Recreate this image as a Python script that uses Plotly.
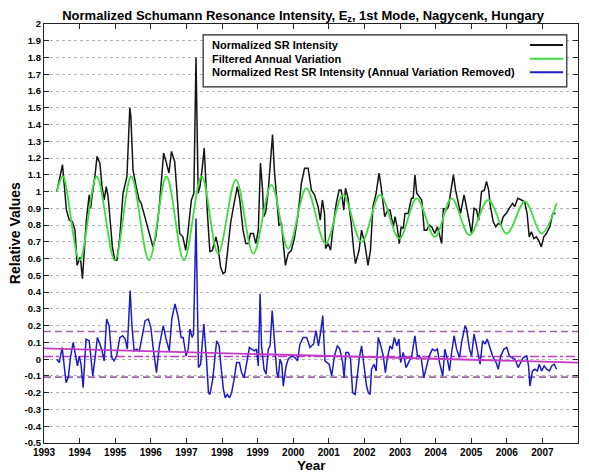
import plotly.graph_objects as go

# ---------------- data ----------------
sr_year = [1993.36, 1993.52, 1993.63, 1993.71, 1993.80, 1993.87, 1993.93, 1993.99, 1994.02, 1994.08,
           1994.19, 1994.27, 1994.31, 1994.36, 1994.43, 1994.49, 1994.57, 1994.63, 1994.69, 1994.75,
           1994.80, 1994.85, 1994.92, 1994.99, 1995.05, 1995.13, 1995.22, 1995.33, 1995.38, 1995.41,
           1995.44, 1995.50, 1995.59, 1995.67, 1995.73, 1995.86, 1995.97, 1996.06, 1996.14, 1996.23,
           1996.30, 1996.36, 1996.44, 1996.51, 1996.58, 1996.67, 1996.73, 1996.81, 1996.90, 1996.98,
           1997.04, 1997.14, 1997.21, 1997.27, 1997.33, 1997.38, 1997.44, 1997.50, 1997.59, 1997.66,
           1997.73, 1997.83, 1997.89, 1997.96, 1998.03, 1998.09, 1998.15, 1998.24, 1998.34, 1998.43,
           1998.50, 1998.59, 1998.67, 1998.74, 1998.80, 1998.88, 1998.95, 1999.02, 1999.08, 1999.14,
           1999.17, 1999.23, 1999.30, 1999.36, 1999.42, 1999.47, 1999.53, 1999.60, 1999.67, 1999.74,
           1999.78, 1999.86, 1999.95, 2000.04, 2000.14, 2000.23, 2000.32, 2000.42, 2000.51, 2000.60,
           2000.70, 2000.76, 2000.82, 2000.88, 2000.91, 2000.98, 2001.05, 2001.12, 2001.21, 2001.29,
           2001.35, 2001.42, 2001.47, 2001.54, 2001.63, 2001.70, 2001.75, 2001.85, 2001.92, 2002.01,
           2002.10, 2002.17, 2002.24, 2002.33, 2002.41, 2002.47, 2002.57, 2002.66, 2002.72, 2002.81,
           2002.86, 2002.92, 2002.98, 2003.03, 2003.09, 2003.14, 2003.23, 2003.32, 2003.37, 2003.42,
           2003.47, 2003.54, 2003.61, 2003.68, 2003.75, 2003.82, 2003.89, 2003.98, 2004.05, 2004.10,
           2004.17, 2004.22, 2004.29, 2004.36, 2004.42, 2004.50, 2004.56, 2004.64, 2004.70, 2004.80,
           2004.87, 2004.95, 2005.01, 2005.08, 2005.15, 2005.21, 2005.29, 2005.37, 2005.43, 2005.49,
           2005.54, 2005.62, 2005.69, 2005.76, 2005.83, 2005.90, 2005.99, 2006.07, 2006.16, 2006.22,
           2006.31, 2006.41, 2006.50, 2006.57, 2006.63, 2006.69, 2006.76, 2006.83, 2006.89, 2006.97,
           2007.04, 2007.11, 2007.21, 2007.29, 2007.37]
sr_value = [1.00, 1.16, 0.89, 0.83, 0.82, 0.77, 0.56, 0.59, 0.61, 0.48,
            0.83, 0.98, 0.90, 0.99, 1.09, 1.21, 1.17, 1.03, 0.95, 1.03,
            0.97, 0.85, 0.67, 0.59, 0.59, 0.73, 0.99, 1.09, 1.31, 1.50,
            1.45, 1.13, 1.03, 0.95, 0.93, 0.83, 0.75, 0.67, 0.73, 0.89,
            1.07, 1.23, 1.17, 1.11, 1.24, 1.18, 1.01, 0.75, 0.73, 0.65,
            0.75, 0.95, 0.99, 1.80, 0.99, 1.03, 1.13, 1.26, 0.87, 0.64,
            0.65, 0.73, 0.67, 0.55, 0.51, 0.52, 0.63, 0.81, 0.93, 1.03,
            0.95, 0.77, 0.69, 0.69, 0.75, 0.75, 0.69, 0.77, 1.17, 1.01,
            0.85, 0.88, 1.01, 1.19, 1.34, 1.13, 0.97, 0.80, 0.81, 0.63,
            0.56, 0.63, 0.65, 0.73, 0.87, 1.05, 1.14, 1.14, 1.01, 0.98,
            0.91, 0.83, 0.95, 0.87, 0.66, 0.69, 0.65, 0.79, 0.93, 1.01,
            1.01, 0.89, 1.02, 0.96, 0.81, 0.65, 0.57, 0.65, 0.77, 0.69,
            0.56, 0.65, 0.91, 0.99, 1.11, 1.03, 0.85, 0.89, 0.89, 0.79,
            0.85, 0.79, 0.69, 0.79, 0.78, 0.87, 0.87, 0.96, 0.96, 1.10,
            0.99, 0.97, 0.95, 0.77, 0.77, 0.80, 0.79, 0.75, 0.79, 0.75,
            0.69, 0.90, 0.89, 0.91, 0.99, 1.10, 1.01, 0.93, 0.87, 0.98,
            0.91, 0.83, 0.75, 0.90, 0.89, 0.83, 1.00, 1.01, 1.06, 1.01,
            0.91, 0.82, 0.79, 0.81, 0.80, 0.85, 0.87, 0.90, 0.93, 0.91,
            0.96, 0.95, 0.94, 0.87, 0.73, 0.76, 0.72, 0.73, 0.71, 0.67,
            0.73, 0.75, 0.79, 0.87, 0.87]

annual_year = [1993.36, 1993.53, 1994.00, 1994.48, 1994.99, 1995.45, 1995.95, 1996.44, 1996.93, 1997.43,
               1997.89, 1998.39, 1998.88, 1999.39, 1999.86, 2000.37, 2000.91, 2001.40, 2001.92, 2002.44,
               2002.98, 2003.47, 2003.98, 2004.45, 2004.95, 2005.48, 2006.00, 2006.51, 2006.98, 2007.40]
annual_value = [1.00, 1.09, 0.59, 1.09, 0.59, 1.09, 0.59, 1.09, 0.59, 1.09,
                0.63, 1.07, 0.63, 1.04, 0.66, 1.02, 0.69, 0.98, 0.70, 0.98,
                0.72, 0.96, 0.73, 0.96, 0.74, 0.95, 0.75, 0.94, 0.75, 0.93]

rest_year = [1993.36, 1993.43, 1993.51, 1993.62, 1993.68, 1993.75, 1993.82, 1993.90, 1993.94, 1993.99,
             1994.04, 1994.10, 1994.18, 1994.27, 1994.37, 1994.43, 1994.50, 1994.57, 1994.62, 1994.69,
             1994.76, 1994.83, 1994.90, 1994.97, 1995.04, 1995.13, 1995.21, 1995.28, 1995.34, 1995.42,
             1995.47, 1995.53, 1995.60, 1995.68, 1995.74, 1995.84, 1995.93, 1996.00, 1996.07, 1996.16,
             1996.24, 1996.35, 1996.43, 1996.52, 1996.59, 1996.68, 1996.77, 1996.85, 1996.91, 1996.99,
             1997.05, 1997.10, 1997.16, 1997.20, 1997.27, 1997.34, 1997.40, 1997.49, 1997.57, 1997.62,
             1997.66, 1997.74, 1997.85, 1997.92, 1997.97, 1998.04, 1998.09, 1998.15, 1998.21, 1998.27,
             1998.34, 1998.41, 1998.49, 1998.55, 1998.62, 1998.69, 1998.77, 1998.83, 1998.91, 1998.97,
             1999.02, 1999.07, 1999.11, 1999.18, 1999.24, 1999.30, 1999.35, 1999.41, 1999.47, 1999.54,
             1999.58, 1999.63, 1999.68, 1999.72, 1999.80, 1999.86, 1999.96, 2000.05, 2000.12, 2000.19,
             2000.28, 2000.38, 2000.47, 2000.57, 2000.64, 2000.71, 2000.77, 2000.83, 2000.89, 2000.96,
             2001.01, 2001.08, 2001.16, 2001.24, 2001.31, 2001.39, 2001.43, 2001.48, 2001.55, 2001.61,
             2001.67, 2001.74, 2001.80, 2001.86, 2001.92, 2001.99, 2002.06, 2002.11, 2002.16, 2002.20,
             2002.27, 2002.33, 2002.39, 2002.46, 2002.53, 2002.59, 2002.64, 2002.72, 2002.78, 2002.84,
             2002.91, 2002.97, 2003.02, 2003.09, 2003.17, 2003.24, 2003.33, 2003.42, 2003.49, 2003.54,
             2003.60, 2003.67, 2003.75, 2003.82, 2003.91, 2003.98, 2004.05, 2004.11, 2004.20, 2004.26,
             2004.33, 2004.39, 2004.45, 2004.52, 2004.59, 2004.67, 2004.73, 2004.83, 2004.87, 2004.95,
             2005.01, 2005.08, 2005.15, 2005.25, 2005.32, 2005.39, 2005.45, 2005.53, 2005.60, 2005.70,
             2005.76, 2005.83, 2005.92, 2006.00, 2006.07, 2006.14, 2006.23, 2006.32, 2006.39, 2006.46,
             2006.56, 2006.61, 2006.65, 2006.72, 2006.79, 2006.86, 2006.91, 2006.98, 2007.05, 2007.12,
             2007.20, 2007.26, 2007.33, 2007.40]
rest_value = [0.00, -0.02, 0.07, -0.14, -0.11, 0.02, 0.10, 0.00, -0.04, 0.02,
              -0.03, -0.17, 0.12, 0.11, -0.10, 0.00, 0.13, 0.09, 0.06, -0.01,
              0.24, 0.20, 0.01, -0.01, 0.02, 0.13, 0.14, 0.12, 0.06, 0.41,
              0.20, 0.05, 0.06, 0.05, 0.12, 0.23, 0.24, 0.19, 0.06, -0.08,
              0.08, 0.20, 0.12, 0.05, 0.24, 0.33, 0.25, 0.13, 0.13, 0.02,
              0.06, 0.18, 0.13, 0.15, 0.84, -0.05, -0.03, 0.21, -0.02, -0.20,
              -0.21, -0.12, 0.11, 0.08, -0.04, -0.18, -0.23, -0.21, -0.23, -0.20,
              -0.12, -0.02, -0.02, -0.08, -0.11, -0.03, 0.07, 0.06, 0.05, 0.06,
              -0.04, 0.39, 0.08, -0.06, -0.09, 0.06, 0.08, 0.29, 0.10, -0.08,
              -0.11, 0.00, -0.03, -0.16, -0.04, 0.00, 0.02, 0.01, -0.01, 0.09,
              0.13, 0.13, 0.07, 0.09, 0.17, 0.08, 0.16, 0.26, -0.01, -0.02,
              -0.03, -0.10, 0.02, 0.08, 0.06, -0.02, -0.11, 0.04, 0.04, 0.00,
              -0.20, -0.21, -0.08, 0.01, 0.08, -0.04, -0.16, -0.20, -0.21, -0.06,
              -0.03, -0.07, 0.13, 0.08, 0.02, -0.08, 0.00, 0.08, 0.06, 0.13,
              0.08, 0.12, -0.02, 0.04, -0.05, -0.02, 0.02, 0.14, 0.02, 0.02,
              0.00, -0.11, -0.04, 0.02, 0.06, 0.05, 0.06, -0.02, -0.10, 0.06,
              0.00, -0.07, 0.04, 0.14, 0.06, 0.01, 0.10, 0.20, 0.18, 0.06,
              0.02, 0.15, 0.08, -0.03, 0.11, 0.09, 0.12, 0.06, 0.02, -0.02,
              -0.06, 0.02, 0.06, 0.07, 0.02, 0.01, 0.00, -0.05, -0.02, 0.01,
              0.02, -0.04, -0.16, -0.07, -0.06, -0.07, -0.03, -0.07, -0.04, -0.06,
              -0.07, -0.04, -0.03, -0.06]

ref_span = [1993, 2008]
band_upper = [0.165, 0.165]
band_lower = [-0.107, -0.107]
rest_mean = [0.016, 0.016]
trend_value = [0.064, -0.02]

x_tick_vals = [1993, 1994, 1995, 1996, 1997, 1998, 1999, 2000, 2001, 2002, 2003, 2004, 2005, 2006, 2007, 2008]
x_tick_text = ["1993", "1994", "1995", "1996", "1997", "1998", "1999", "2000", "2001", "2002", "2003",
               "2004", "2005", "2006", "2007", "2008"]
y_tick_vals = [-0.5, -0.4, -0.3, -0.2, -0.1, 0, 0.1, 0.2, 0.3, 0.4, 0.5, 0.6, 0.7, 0.8, 0.9, 1,
               1.1, 1.2, 1.3, 1.4, 1.5, 1.6, 1.7, 1.8, 1.9, 2]
y_tick_text = ["-0.5", "-0.4", "-0.3", "-0.2", "-0.1", "0", "0.1", "0.2", "0.3", "0.4", "0.5", "0.6",
               "0.7", "0.8", "0.9", "1", "1.1", "1.2", "1.3", "1.4", "1.5", "1.6", "1.7", "1.8", "1.9", "2"]

legend_labels = ["Normalized SR Intensity", "Filtered Annual Variation",
                 "Normalized Rest SR Intensity (Annual Variation Removed)"]

# ---------------- styling ----------------
C_BLACK = "#151515"
C_GREEN = "#3fdc3f"
C_BLUE = "#1c1cc4"
C_DASH = "#a062a6"
C_TREND = "#c23ac6"
FONT = "Liberation Sans, Arial, sans-serif"

fig = go.Figure()
fig.add_trace(go.Scatter(x=ref_span, y=band_upper, mode="lines",
                         line=dict(color=C_DASH, width=1.6, dash="7px,4px"), hoverinfo="skip"))
fig.add_trace(go.Scatter(x=ref_span, y=band_lower, mode="lines",
                         line=dict(color=C_DASH, width=1.6, dash="7px,4px"), hoverinfo="skip"))
fig.add_trace(go.Scatter(x=ref_span, y=rest_mean, mode="lines",
                         line=dict(color=C_TREND, width=1.3, dash="dashdot"), hoverinfo="skip"))
fig.add_trace(go.Scatter(x=sr_year, y=sr_value, mode="lines", name=legend_labels[0],
                         line=dict(color=C_BLACK, width=1.5)))
fig.add_trace(go.Scatter(x=annual_year, y=annual_value, mode="lines", name=legend_labels[1],
                         line=dict(color=C_GREEN, width=1.8, shape="spline", smoothing=1.0)))
fig.add_trace(go.Scatter(x=rest_year, y=rest_value, mode="lines", name=legend_labels[2],
                         line=dict(color=C_BLUE, width=1.5)))
fig.add_trace(go.Scatter(x=ref_span, y=trend_value, mode="lines",
                         line=dict(color=C_TREND, width=1.8), hoverinfo="skip"))

# manual legend (text left, sample line right, like the original)
legend_colors = [C_BLACK, C_GREEN, C_BLUE]
legend_rows = [0.950, 0.917, 0.885]
shapes = [dict(type="rect", xref="paper", yref="paper", x0=0.298, x1=0.979, y0=0.850, y1=0.974,
               line=dict(color="#222", width=1.2), fillcolor="white", layer="above")]
annotations = []
for lab, col, yy in zip(legend_labels, legend_colors, legend_rows):
    shapes.append(dict(type="line", xref="paper", yref="paper", x0=0.910, x1=0.972, y0=yy, y1=yy,
                       line=dict(color=col, width=2), layer="above"))
    annotations.append(dict(text=lab, xref="paper", yref="paper", x=0.311, y=yy, xanchor="left",
                            yanchor="middle", showarrow=False,
                            font=dict(family=FONT, size=11, color="black", weight="bold")))

annotations.append(dict(text="Relative Values", xref="paper", yref="paper", x=-0.055, y=0.5,
                        textangle=-90, showarrow=False, xanchor="center", yanchor="middle",
                        font=dict(family=FONT, size=14, color="black", weight="bold")))
annotations.append(dict(text="Year", xref="paper", yref="paper", x=0.5, y=-0.0535,
                        showarrow=False, xanchor="center", yanchor="middle",
                        font=dict(family=FONT, size=13.5, color="black", weight="bold")))

# the page body adds an 8px offset, so the figure is 8px smaller and the margins compensate
fig.update_layout(
    width=581, height=464,
    margin=dict(l=36, r=11, t=16, b=29),
    paper_bgcolor="white", plot_bgcolor="white",
    showlegend=False,
    title=dict(text="Normalized Schumann Resonance Intensity, E<sub>z</sub>, 1st Mode, Nagycenk, Hungary",
               x=0.508, xanchor="center", y=0.985, yanchor="middle",
               font=dict(family=FONT, size=13, color="black", weight="bold")),
    shapes=shapes, annotations=annotations,
    xaxis=dict(range=[1993, 2008], tickvals=x_tick_vals, ticktext=x_tick_text,
               showgrid=False, zeroline=False, showline=True, linecolor="#222", linewidth=1.3,
               mirror="ticks", ticks="inside", ticklen=5, tickcolor="#222",
               tickfont=dict(family=FONT, size=10, color="black", weight="bold"), automargin=False),
    yaxis=dict(range=[-0.5, 2], tickvals=y_tick_vals, ticktext=y_tick_text,
               showgrid=True, gridcolor="#b4b4b4", gridwidth=1, griddash="dot",
               zeroline=False, showline=True, linecolor="#222", linewidth=1.3,
               mirror="ticks", ticks="inside", ticklen=5, tickcolor="#222",
               tickfont=dict(family=FONT, size=9.5, color="black", weight="bold"), automargin=False),
)

fig.write_html("out.html")
